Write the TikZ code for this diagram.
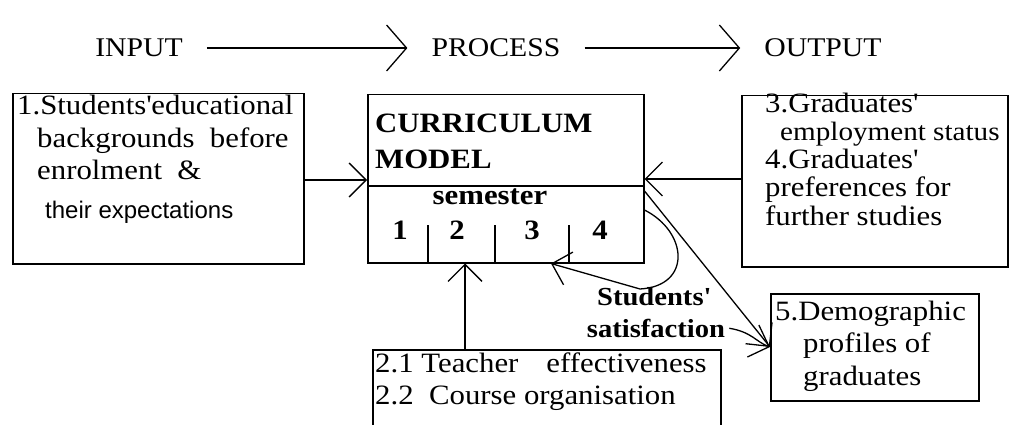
\documentclass[tikz,border=0pt]{standalone}
\usepackage{fontspec}
\setmainfont{Liberation Serif}[FakeStretch=1.1]
\newfontfamily\sansfont{Liberation Sans}
\usetikzlibrary{arrows.meta,positioning,calc}
\tikzset{
  box/.style={draw, line width=1.5pt, anchor=north west, inner sep=0pt},
  txt/.style={anchor=mid west, inner sep=0pt, font=\fontsize{28}{32}\selectfont},
  bld/.style={anchor=mid, inner sep=0pt, font=\fontsize{28}{32}\selectfont\bfseries},
  ttl/.style={inner ysep=0pt, inner xsep=24pt, font=\fontsize{27}{30}\selectfont},
  barb/.style={line width=1.3pt, -{Straight Barb[length=17pt,width=34pt,line width=1.3pt]}},
  bigbarb/.style={line width=1.3pt, -{Straight Barb[length=20pt,width=46pt,line width=1.3pt]}},
}
\newcommand{\q}{\textquotesingle}
\begin{document}
\begin{tikzpicture}[x=1pt,y=-1pt]
\clip (0,0) rectangle (1009,425);
\fill[white] (0,0) rectangle (1009,425);
% heading
\node[ttl] (tin) at (139,48) {INPUT};
\node[ttl] (tpr) at (496,48) {PROCESS};
\node[ttl] (tout) at (823,48) {OUTPUT};
\draw[bigbarb] (tin.east) -- (tpr.west);
\draw[bigbarb] (tpr.east) -- (tout.west);
% boxes
\node[box, minimum width=291pt, minimum height=170pt] (in1) at (12,93) {};
\node[box, minimum width=276pt, minimum height=168pt] (cm) at (367,94) {};
\node[box, minimum width=266pt, minimum height=171pt] (out34) at (741,95) {};
\node[box, minimum width=208pt, minimum height=107pt] (dem5) at (770,293) {};
\node[box, minimum width=348pt, minimum height=100pt] (tc) at (372,349) {};
\draw[line width=1.5pt] (cm.west |- 0,186) -- (cm.east |- 0,186);
\foreach \x in {428,495,569}
  \draw[line width=1.5pt] (\x,225) -- (cm.south -| \x,0);
% texts
\node[txt] (i1) at (17,112) {1.Students\q educational};
\node[txt] (i2) at (37,145) {backgrounds\ \ before};
\node[txt] (i3) at (37,177) {enrolment\ \ \&};
\node[txt, font=\fontsize{24}{28}\sansfont] (i4) at (45,216) {their expectations};
\node[txt, font=\fontsize{28}{32}\selectfont\bfseries] (cm1) at (375,130) {CURRICULUM};
\node[txt, font=\fontsize{28}{32}\selectfont\bfseries] (cm2) at (375,166) {MODEL};
\node[bld] (sem) at (490,202) {semester};
\node[bld] (s1) at (400,237) {1};
\node[bld] (s2) at (457,237) {2};
\node[bld] (s3) at (532,237) {3};
\node[bld] (s4) at (600,237) {4};
\node[txt] (o1) at (765,110) {3.Graduates\q};
\node[txt, font=\fontsize{26.5}{30}\selectfont] (o2) at (780,138) {employment status};
\node[txt] (o3) at (765,166) {4.Graduates\q};
\node[txt] (o4) at (765,194) {preferences for};
\node[txt] (o5) at (765,223) {further studies};
\node[txt] (d1) at (775,318) {5.Demographic};
\node[txt] (d2) at (803,350) {profiles of};
\node[txt] (d3) at (803,383) {graduates};
\node[txt] (t1) at (375,370) {2.1 Teacher\quad effectiveness};
\node[txt] (t2) at (375,402) {2.2\ \ Course organisation};
\node[bld, font=\fontsize{26}{30}\selectfont\bfseries] (sat1) at (654,303) {Students\q};
\node[bld, font=\fontsize{26}{30}\selectfont\bfseries] (sat2) at (656,335) {satisfaction};
% connectors
\draw[barb] (in1.east |- 0,180) -- (cm.west |- 0,180);
\draw[barb, {Straight Barb[length=17pt,width=34pt,line width=1.3pt]}-] (cm.east |- 0,179) -- (out34.west |- 0,179);
\draw[barb] (tc.north -| 465,0) -- (cm.south -| 465,0);
\draw[barb] (cm.east |- 0,191) -- (dem5.west |- 0,347);
\draw[barb] (cm.east |- 0,210) .. controls (688,232) and (692,286) .. (640,289) -- (cm.south -| 551,0);
\draw[barb] ([xshift=4pt]sat2.east) .. controls (752,332) and (756,342) .. (dem5.west |- 0,347);
\end{tikzpicture}
\end{document}
